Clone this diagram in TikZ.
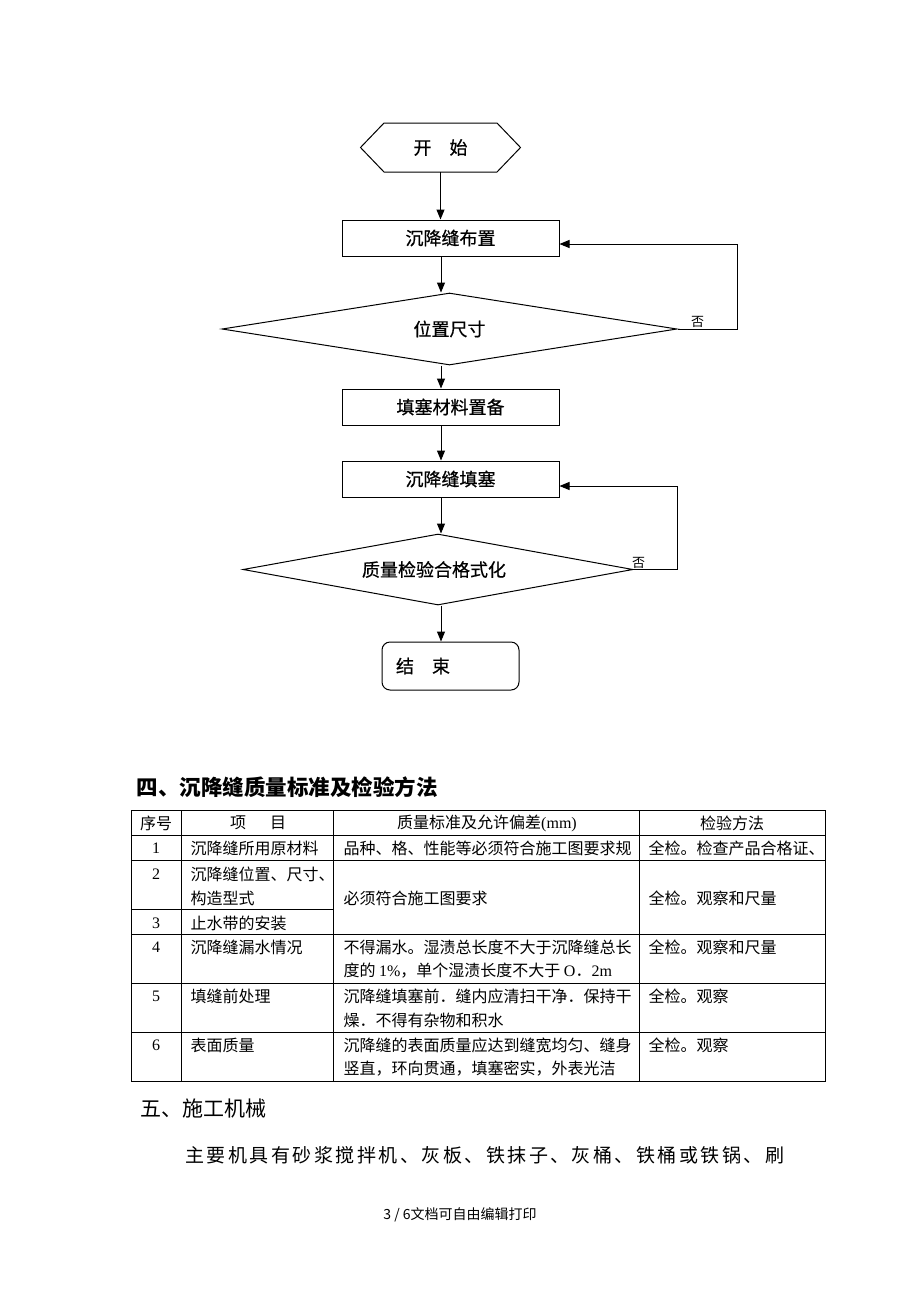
\documentclass[tikz,border=0pt]{standalone}
\usepackage{fontspec}
\setmainfont{Liberation Serif}
\newfontfamily\cjk{Noto Sans CJK SC}
\newfontfamily\cjkhei[FakeBold=0.6]{Noto Sans CJK SC}
\usetikzlibrary{shapes.geometric,arrows.meta}

\begin{document}
\begin{tikzpicture}[x=1pt,y=-1pt,line width=1pt,
  stepbox/.style={draw,minimum width=217pt,minimum height=36pt,inner sep=0pt,font=\cjkhei\fontsize{18}{18}\selectfont},
  testbox/.style={draw,diamond,inner sep=0pt,font=\cjkhei\fontsize{18}{18}\selectfont},
  flow/.style={-{Triangle[length=10pt,width=8pt]}},
  notag/.style={inner sep=0pt,font=\cjk\fontsize{13}{13}\selectfont},
  cell/.style={anchor=west,inner sep=0pt,font=\cjk\fontsize{16}{16}\selectfont},
  num/.style={inner sep=0pt,font=\fontsize{16}{16}\selectfont}]
\path[fill=white] (0,0) rectangle (920,1302);
\useasboundingbox (0,0) rectangle (920,1302);

\node[minimum width=159pt,minimum height=48pt,inner sep=0pt,font=\cjkhei\fontsize{18}{18}\selectfont] (start) at (440.5,147.5) {开\quad 始};
\draw (start.west) -- ([xshift=23.5pt]start.north west) -- ([xshift=-23.5pt]start.north east) -- (start.east) -- ([xshift=-23.5pt]start.south east) -- ([xshift=23.5pt]start.south west) -- cycle;
\node[stepbox] (layout) at (450.5,238) {沉降缝布置};
\node[testbox,shape aspect=6.3,minimum width=455pt,minimum height=72pt] (size) at (449.5,329) {位置尺寸};
\node[stepbox] (prep) at (450.5,407) {填塞材料置备};
\node[stepbox] (fill) at (450.5,479) {沉降缝填塞};
\node[testbox,shape aspect=5.5,minimum width=390pt,minimum height=71pt] (check) at (438,569.5) {\hspace*{-8pt}质量检验合格式化};
\node[draw,rounded corners=8pt,minimum height=48pt,text width=109pt,inner xsep=14pt,align=left,font=\cjkhei\fontsize{18}{18}\selectfont] (stop) at (450.5,666) {结\quad 束};

\coordinate (axis) at (441,0);
\draw[flow] (start.south) -- (start.south |- layout.north);
\draw[flow] (axis |- layout.south) -- (axis |- size.north);
\draw[flow] (axis |- size.south) -- (axis |- prep.north);
\draw[flow] (axis |- prep.south) -- (axis |- fill.north);
\draw[flow] (axis |- fill.south) -- (axis |- check.north);
\draw[flow] (axis |- check.south) -- (axis |- stop.north);
\draw[flow] (size.east) -- ++(60,0) |- ([yshift=-6pt]layout.east);
\draw[flow] (check.east) -- ++(44,0) |- ([yshift=-7pt]fill.east);
\node[notag] at ([xshift=20pt,yshift=7pt]size.east) {否};
\node[notag] at ([xshift=5pt,yshift=7pt]check.east) {否};

\node[anchor=west,inner sep=0pt,font=\cjk\bfseries\fontsize{21.5}{21.5}\selectfont] (title) at (136,787) {四、沉降缝质量标准及检验方法};

\draw (131,810) rectangle (825,1081);
\foreach \y in {835,860,934,983,1032} \draw (131,\y) -- (825,\y);
\draw (131,909) -- (333,909);
\foreach \x in {181,333,639} \draw (\x,810) -- (\x,1081);

\node[cell,anchor=center] at (156,823) {序号};
\node[cell,anchor=center] at (258,823) {项\hspace{24pt}目};
\node[cell,anchor=center] at (487,823) {质量标准及允许偏差{\rmfamily (mm)}};
\node[cell,anchor=center] at (732,823) {检验方法};

\foreach \n/\y in {1/848,2/874,3/923,4/947,5/996,6/1045} \node[num] at (156,\y) {\n};

\node[cell] at (190,848) {沉降缝所用原材料};
\node[cell] at (343,848) {品种、格、性能等必须符合施工图要求规};
\node[cell] at (648,848) {全检。检查产品合格证、};
\node[cell] at (190,874) {沉降缝位置、尺寸、};
\node[cell] at (190,898) {构造型式};
\node[cell] at (343,898) {必须符合施工图要求};
\node[cell] at (648,898) {全检。观察和尺量};
\node[cell] at (190,923) {止水带的安装};
\node[cell] at (190,947) {沉降缝漏水情况};
\node[cell] at (343,947) {不得漏水。湿渍总长度不大于沉降缝总长};
\node[cell] at (343,971) {度的 {\rmfamily 1\%}，单个湿渍长度不大于 {\rmfamily O}．{\rmfamily 2m}};
\node[cell] at (648,947) {全检。观察和尺量};
\node[cell] at (190,996) {填缝前处理};
\node[cell] at (343,996) {沉降缝填塞前．缝内应清扫干净．保持干};
\node[cell] at (343,1020) {燥．不得有杂物和积水};
\node[cell] at (648,996) {全检。观察};
\node[cell] at (190,1045) {表面质量};
\node[cell] at (343,1045) {沉降缝的表面质量应达到缝宽均匀、缝身};
\node[cell] at (343,1069) {竖直，环向贯通，填塞密实，外表光洁};
\node[cell] at (648,1045) {全检。观察};

\node[anchor=west,inner sep=0pt,font=\cjk\fontsize{21}{21}\selectfont] (part) at (140,1108) {五、施工机械};
\node[anchor=west,inner sep=0pt,font=\cjk\fontsize{19}{19}\selectfont\addfontfeature{LetterSpace=13}] (tools) at (185,1155) {主要机具有砂浆搅拌机、灰板、铁抹子、灰桶、铁桶或铁锅、刷};
\node[inner sep=0pt,font=\cjk\fontsize{14}{14}\selectfont] (page) at (460,1215) {3 / 6文档可自由编辑打印};
\end{tikzpicture}
\end{document}
